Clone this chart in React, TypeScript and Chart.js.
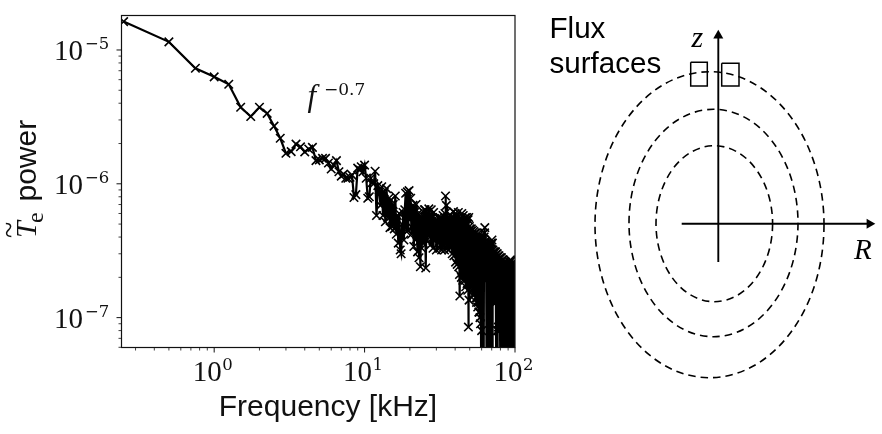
import { useEffect, useRef } from "react"
import { Chart, registerables } from "chart.js"
import type { Plugin } from "chart.js"

Chart.register(...registerables)

// Frequency in kHz
const frequency = [
  0.25, 0.5, 0.75, 1, 1.25, 1.5, 1.75, 2, 2.25, 2.5, 2.75, 3, 3.25, 3.5, 3.75, 4, 4.25, 4.5, 4.75, 5,
  5.25, 5.5, 5.75, 6, 6.25, 6.5, 6.75, 7, 7.25, 7.5, 7.75, 8, 8.25, 8.5, 8.75, 9, 9.25, 9.5, 9.75, 10,
  10.25, 10.5, 10.75, 11, 11.25, 11.5, 11.75, 12, 12.25, 12.5, 12.75, 13, 13.25, 13.5, 13.75, 14, 14.25, 14.5, 14.75, 15,
  15.25, 15.5, 15.75, 16, 16.25, 16.5, 16.75, 17, 17.25, 17.5, 17.75, 18, 18.25, 18.5, 18.75, 19, 19.25, 19.5, 19.75, 20,
  20.25, 20.5, 20.75, 21, 21.25, 21.5, 21.75, 22, 22.25, 22.5, 22.75, 23, 23.25, 23.5, 23.75, 24, 24.25, 24.5, 24.75, 25,
  25.25, 25.5, 25.75, 26, 26.25, 26.5, 26.75, 27, 27.25, 27.5, 27.75, 28, 28.25, 28.5, 28.75, 29, 29.25, 29.5, 29.75, 30,
  30.25, 30.5, 30.75, 31, 31.25, 31.5, 31.75, 32, 32.25, 32.5, 32.75, 33, 33.25, 33.5, 33.75, 34, 34.25, 34.5, 34.75, 35,
  35.25, 35.5, 35.75, 36, 36.25, 36.5, 36.75, 37, 37.25, 37.5, 37.75, 38, 38.25, 38.5, 38.75, 39, 39.25, 39.5, 39.75, 40,
  40.25, 40.5, 40.75, 41, 41.25, 41.5, 41.75, 42, 42.25, 42.5, 42.75, 43, 43.25, 43.5, 43.75, 44, 44.25, 44.5, 44.75, 45,
  45.25, 45.5, 45.75, 46, 46.25, 46.5, 46.75, 47, 47.25, 47.5, 47.75, 48, 48.25, 48.5, 48.75, 49, 49.25, 49.5, 49.75, 50,
  50.25, 50.5, 50.75, 51, 51.25, 51.5, 51.75, 52, 52.25, 52.5, 52.75, 53, 53.25, 53.5, 53.75, 54, 54.25, 54.5, 54.75, 55,
  55.25, 55.5, 55.75, 56, 56.25, 56.5, 56.75, 57, 57.25, 57.5, 57.75, 58, 58.25, 58.5, 58.75, 59, 59.25, 59.5, 59.75, 60,
  60.25, 60.5, 60.75, 61, 61.25, 61.5, 61.75, 62, 62.25, 62.5, 62.75, 63, 63.25, 63.5, 63.75, 64, 64.25, 64.5, 64.75, 65,
  65.25, 65.5, 65.75, 66, 66.25, 66.5, 66.75, 67, 67.25, 67.5, 67.75, 68, 68.25, 68.5, 68.75, 69, 69.25, 69.5, 69.75, 70,
  70.25, 70.5, 70.75, 71, 71.25, 71.5, 71.75, 72, 72.25, 72.5, 72.75, 73, 73.25, 73.5, 73.75, 74, 74.25, 74.5, 74.75, 75,
  75.25, 75.5, 75.75, 76, 76.25, 76.5, 76.75, 77, 77.25, 77.5, 77.75, 78, 78.25, 78.5, 78.75, 79, 79.25, 79.5, 79.75, 80,
  80.25, 80.5, 80.75, 81, 81.25, 81.5, 81.75, 82, 82.25, 82.5, 82.75, 83, 83.25, 83.5, 83.75, 84, 84.25, 84.5, 84.75, 85,
  85.25, 85.5, 85.75, 86, 86.25, 86.5, 86.75, 87, 87.25, 87.5, 87.75, 88, 88.25, 88.5, 88.75, 89, 89.25, 89.5, 89.75, 90,
  90.25, 90.5, 90.75, 91, 91.25, 91.5, 91.75, 92, 92.25, 92.5, 92.75, 93, 93.25, 93.5, 93.75, 94, 94.25, 94.5, 94.75, 95,
  95.25, 95.5, 95.75, 96, 96.25, 96.5, 96.75, 97, 97.25, 97.5, 97.75, 98, 98.25, 98.5, 98.75, 99, 99.25, 99.5, 99.75, 100,
]

// Power in units of 1e-7
const powerE7 = [
  163, 115, 73, 63, 55.5, 37.3, 31.8, 37.3, 33.6, 27, 21.9, 16.9, 17.4, 19.8, 18.9, 17.3, 18.2, 18.7, 14.9, 15.1,
  15.5, 15.5, 14.3, 12.9, 13.8, 14.9, 12.3, 11.4, 11.8, 11, 11, 11.2, 11.6, 7.9, 8.3, 13.1, 12.7, 13.4, 12.3, 13.8,
  11, 7.8, 8.0, 11, 10.2, 10, 12.4, 5.8, 9.7, 9, 6.9, 9.5, 5.8, 8.7, 5.2, 9.2, 5.6, 7.8, 4.7, 7.6,
  4.8, 7, 4.6, 8.1, 4.2, 5.8, 3.6, 6, 3.2, 3, 5, 6.1, 3.8, 6.4, 8.5, 4.4, 8.7, 4.5, 8.9, 5.4,
  7.8, 4.2, 4.7, 6.9, 3.4, 6.1, 3.8, 7, 4.2, 3.1, 6, 2.8, 4.4, 2.4, 5.6, 3.3, 5.8, 3.6, 6.1, 6.4,
  6.4, 2.35, 5.2, 3.8, 6.1, 4.1, 6.5, 4.3, 5.8, 3.5, 6.4, 3.9, 5.6, 3.3, 6.1, 3.8, 5.5, 4.1, 5.2, 3.2,
  5.3, 4.3, 5.6, 3.6, 5.1, 3.3, 5.6, 4.1, 5.0, 3.2, 5.4, 3.9, 5.8, 3.4, 5.2, 3.2, 6.0, 8.1, 3.6, 6.9,
  3.3, 5.3, 3.8, 5.6, 3.2, 5.0, 3.6, 5.9, 3.3, 5.2, 3.9, 5.6, 3.0, 5.3, 3.5, 6.2, 2.9, 5.0, 3.3, 6.0,
  2.6, 5.2, 3.2, 5.8, 2.5, 5.0, 3.0, 6.1, 2.4, 5.3, 2.1, 1.45, 5.6, 2.7, 5.4, 2.0, 6.0, 2.5, 5.0, 1.9,
  5.8, 2.3, 5.2, 2.1, 5.0, 1.9, 5.6, 1.7, 5.0, 2.2, 5.6, 1.8, 5.0, 1.6, 5.4, 0.85, 5.6, 1.35, 4.8, 1.8,
  4.6, 1.9, 4.4, 1.7, 4.6, 2.0, 4.2, 1.6, 4.5, 1.9, 4.1, 1.5, 4.4, 1.7, 4.0, 1.5, 4.3, 1.6, 4.0, 1.4,
  4.3, 1.3, 3.9, 1.4, 4.2, 1.2, 3.9, 1.3, 4.1, 1.1, 3.9, 1.1, 4.0, 1.0, 3.7, 0.9, 3.9, 0.55, 3.8, 0.8,
  3.7, 0.4, 3.9, 0.5, 3.6, 0.35, 3.8, 0.4, 4.0, 2.0, 4.3, 4.7, 3.7, 1.9, 3.7, 2.0, 3.4, 1.9, 3.6, 0.35,
  3.3, 0.3, 3.5, 0.3, 3.2, 0.35, 3.4, 0.3, 3.2, 0.4, 3.4, 0.3, 3.1, 0.35, 3.4, 0.3, 3.5, 0.3, 3.6, 0.3,
  3.8, 0.4, 3.6, 0.3, 3.2, 1.3, 3.0, 1.3, 3.1, 1.35, 2.9, 1.3, 3.1, 1.3, 2.9, 1.35, 3.1, 1.3, 2.8, 0.4,
  3.0, 0.3, 2.8, 0.3, 3.0, 0.8, 2.7, 0.8, 2.9, 0.85, 2.7, 0.8, 2.9, 0.85, 2.6, 0.8, 2.8, 0.85, 2.6, 0.3,
  2.8, 0.4, 2.6, 0.3, 2.8, 0.35, 2.5, 0.3, 2.7, 0.4, 2.5, 0.3, 2.7, 0.35, 2.4, 0.3, 2.6, 0.4, 2.4, 0.3,
  2.6, 0.35, 2.3, 0.3, 2.6, 0.4, 2.3, 0.3, 2.5, 0.35, 2.3, 0.3, 2.5, 0.4, 2.2, 0.3, 2.5, 0.35, 2.3, 0.3,
  2.5, 0.4, 2.2, 0.3, 2.5, 0.35, 2.3, 0.3, 2.6, 0.4, 2.4, 0.3, 2.7, 0.35, 2.5, 0.3, 2.65, 0.4, 2.4, 0.3,
  2.5, 0.35, 2.2, 0.3, 2.5, 0.4, 2.2, 0.3, 2.5, 0.35, 2.2, 0.3, 2.4, 0.4, 2.1, 0.3, 2.4, 0.35, 2.4, 0.3,
]

const xMajorTicks = [1, 10, 100]
const xTickExponents = ["0", "1", "2"]
const xMinorTicks = [0.3, 0.4, 0.5, 0.6, 0.7, 0.8, 0.9, 2, 3, 4, 5, 6, 7, 8, 9, 20, 30, 40, 50, 60, 70, 80, 90]
const yMajorTicks = [1e-5, 1e-6, 1e-7]
const yTickExponents = ["\u22125", "\u22126", "\u22127"]
const yMinorTicks = [
  9e-6, 8e-6, 7e-6, 6e-6, 5e-6, 4e-6, 3e-6, 2e-6, 9e-7, 8e-7, 7e-7, 6e-7, 5e-7, 4e-7, 3e-7, 2e-7, 9e-8, 8e-8, 7e-8, 6e-8,
]

// Schematic, in page pixels of the right hand canvas
const fluxCentersX = [709.5, 713.5, 714.3]
const fluxCentersY = [224.7, 223, 223.7]
const fluxRadiiX = [114.5, 84.5, 58.3]
const fluxRadiiY = [153, 113.7, 78]
const zAxisX = [718.3, 718.3]
const zAxisY = [262, 35.5]
const rAxisX = [681.7, 869.5]
const rAxisY = [223.7, 223.7]
const probeLeftX = [690.7, 707.3, 707.3, 690.7, 690.7]
const probeLeftY = [62.3, 62.3, 86, 86, 62.3]
const probeRightX = [721.7, 739, 739, 721.7, 721.7]
const probeRightY = [63.3, 63.3, 86, 86, 63.3]

const SERIF = '"Liberation Serif", serif'
const SANS = '"Liberation Sans", Arial, sans-serif'
const EXP = '"DejaVu Serif", serif'

const spectrumLabels: Plugin<"line"> = {
  id: "spectrumLabels",
  afterDraw(chart) {
    const { ctx, chartArea } = chart
    const x = chart.scales.x
    const y = chart.scales.y
    ctx.save()
    ctx.strokeStyle = "#111"
    ctx.fillStyle = "#111"

    ctx.lineWidth = 1.2
    ctx.strokeRect(chartArea.left, chartArea.top, chartArea.width, chartArea.height)

    const tick = (x0: number, y0: number, x1: number, y1: number, w: number) => {
      ctx.lineWidth = w
      ctx.beginPath()
      ctx.moveTo(x0, y0)
      ctx.lineTo(x1, y1)
      ctx.stroke()
    }
    xMinorTicks.forEach((v) => {
      const px = x.getPixelForValue(v)
      tick(px, chartArea.bottom, px, chartArea.bottom + 3, 0.8)
    })
    yMinorTicks.forEach((v) => {
      const py = y.getPixelForValue(v)
      tick(chartArea.left, py, chartArea.left - 3, py, 0.8)
    })

    ctx.textBaseline = "alphabetic"
    xMajorTicks.forEach((v, i) => {
      const px = x.getPixelForValue(v)
      tick(px, chartArea.bottom, px, chartArea.bottom + 5, 1)
      ctx.textAlign = "left"
      ctx.font = `29px ${SERIF}`
      ctx.fillText("10", px - 21.5, 381)
      ctx.font = `16.5px ${EXP}`
      ctx.fillText(xTickExponents[i], px + 8, 369.5)
    })
    yMajorTicks.forEach((v, i) => {
      const py = y.getPixelForValue(v)
      tick(chartArea.left, py, chartArea.left - 5, py, 1)
      ctx.textAlign = "left"
      ctx.font = `29px ${SERIF}`
      ctx.fillText("10", 54, py + 10)
      ctx.font = `16.5px ${EXP}`
      ctx.fillText(yTickExponents[i], 85, py - 0.5)
    })

    ctx.font = `30px ${SANS}`
    ctx.textAlign = "center"
    ctx.fillText("Frequency [kHz]", 328, 415.5)

    // y label, rotated
    ctx.save()
    ctx.translate(36, 237)
    ctx.rotate(-Math.PI / 2)
    ctx.textAlign = "left"
    ctx.font = `italic 30px ${SERIF}`
    ctx.fillText("T", -1, 0)
    ctx.font = `30px ${SERIF}`
    ctx.fillText("~", -1, -17.5)
    ctx.font = `24px ${SERIF}`
    ctx.fillText("e", 14, 7)
    ctx.font = `30px ${SANS}`
    ctx.fillText("power", 35.5, 0)
    ctx.restore()

    ctx.textAlign = "left"
    ctx.font = `italic 31px ${SERIF}`
    ctx.fillText("f", 307.5, 106)
    ctx.font = `17px ${EXP}`
    ctx.fillText("\u22120.7", 324, 94.5)
    ctx.restore()
  },
}

const schematicDrawing: Plugin<"scatter"> = {
  id: "schematicDrawing",
  beforeDatasetsDraw(chart) {
    const { ctx } = chart
    const x = chart.scales.x
    const y = chart.scales.y
    ctx.save()
    ctx.strokeStyle = "#000"
    ctx.lineWidth = 1.6
    ctx.setLineDash([7.5, 5])
    fluxCentersX.forEach((cx, i) => {
      const left = x.getPixelForValue(cx - fluxRadiiX[i])
      const right = x.getPixelForValue(cx + fluxRadiiX[i])
      const top = y.getPixelForValue(fluxCentersY[i] - fluxRadiiY[i])
      const bottom = y.getPixelForValue(fluxCentersY[i] + fluxRadiiY[i])
      ctx.beginPath()
      ctx.ellipse((left + right) / 2, (top + bottom) / 2, (right - left) / 2, (bottom - top) / 2, 0, 0, Math.PI * 2)
      ctx.stroke()
    })
    ctx.restore()
  },
  afterDraw(chart) {
    const { ctx } = chart
    const x = chart.scales.x
    const y = chart.scales.y
    ctx.save()
    ctx.fillStyle = "#000"
    ctx.textBaseline = "alphabetic"
    ctx.textAlign = "left"
    ctx.font = `29.6px ${SANS}`
    ctx.fillText("Flux", x.getPixelForValue(549.5), y.getPixelForValue(37.5))
    ctx.fillText("surfaces", x.getPixelForValue(549.5), y.getPixelForValue(73))
    ctx.font = `italic 30px ${SERIF}`
    ctx.fillText("z", x.getPixelForValue(691.5), y.getPixelForValue(46.5))
    ctx.font = `italic 29px ${SERIF}`
    ctx.fillText("R", x.getPixelForValue(854), y.getPixelForValue(259))
    ctx.restore()
  },
}

const pairs = (xs: number[], ys: number[]) => xs.map((v, i) => ({ x: v, y: ys[i] }))

export default function App() {
  const spectrumRef = useRef<HTMLCanvasElement>(null)
  const schematicRef = useRef<HTMLCanvasElement>(null)

  useEffect(() => {
    if (!spectrumRef.current || !schematicRef.current) return

    const spectrum = new Chart(spectrumRef.current, {
      type: "line",
      data: {
        datasets: [
          {
            data: frequency.map((f, i) => ({ x: f, y: powerE7[i] * 1e-7 })),
            borderColor: "#000",
            borderWidth: 2.2,
            pointStyle: "crossRot",
            pointRadius: 6,
            pointBorderColor: "#000",
            pointBorderWidth: 1.6,
            pointBackgroundColor: "#000",
            tension: 0,
            clip: 0,
          },
        ],
      },
      options: {
        animation: false,
        responsive: false,
        devicePixelRatio: 1,
        layout: { autoPadding: false, padding: { left: 121.5, top: 15.5, right: 25, bottom: 86.5 } },
        plugins: { legend: { display: false }, tooltip: { enabled: false } },
        scales: {
          x: { type: "logarithmic", display: false, min: 0.242, max: 100 },
          y: { type: "logarithmic", display: false, min: 5.98e-8, max: 1.81e-5 },
        },
      },
      plugins: [spectrumLabels],
    })

    const lineStyle = { showLine: true, borderColor: "#000", pointRadius: 0, tension: 0 }
    const schematic = new Chart(schematicRef.current, {
      type: "scatter",
      data: {
        datasets: [
          { ...lineStyle, data: pairs(probeLeftX, probeLeftY), borderWidth: 1.5 },
          { ...lineStyle, data: pairs(probeRightX, probeRightY), borderWidth: 1.5 },
          {
            ...lineStyle,
            data: pairs(zAxisX, zAxisY),
            borderWidth: 1.9,
            pointStyle: "triangle",
            pointRadius: [0, 5.8],
            pointBackgroundColor: "#000",
            pointBorderWidth: 0,
          },
          {
            ...lineStyle,
            data: pairs(rAxisX, rAxisY),
            borderWidth: 1.9,
            pointStyle: "triangle",
            pointRadius: [0, 5.8],
            pointRotation: 90,
            pointBackgroundColor: "#000",
            pointBorderWidth: 0,
          },
        ],
      },
      options: {
        animation: false,
        responsive: false,
        devicePixelRatio: 1,
        layout: { autoPadding: false, padding: 0 },
        plugins: { legend: { display: false }, tooltip: { enabled: false } },
        scales: {
          x: { type: "linear", display: false, min: 540, max: 882 },
          y: { type: "linear", display: false, min: 0, max: 434, reverse: true },
        },
      },
      plugins: [schematicDrawing],
    })

    return () => {
      spectrum.destroy()
      schematic.destroy()
    }
  }, [])

  return (
    <div style={{ position: "absolute", left: 0, top: 0, width: 882, height: 434, background: "#fff", overflow: "hidden" }}>
      <canvas ref={spectrumRef} width={540} height={434} style={{ position: "absolute", left: 0, top: 0 }}></canvas>
      <canvas ref={schematicRef} width={342} height={434} style={{ position: "absolute", left: 540, top: 0 }}></canvas>
    </div>
  )
}
